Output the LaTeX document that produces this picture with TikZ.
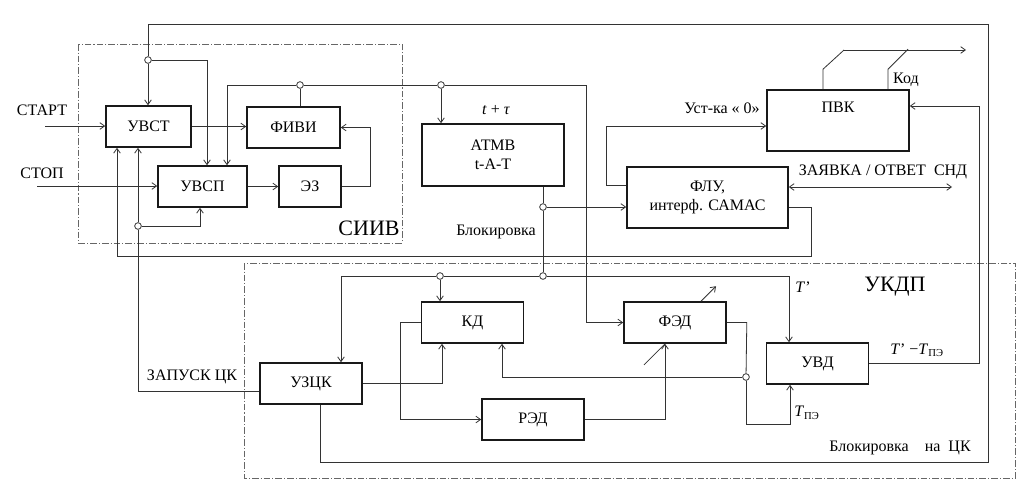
\documentclass[tikz,border=0pt]{standalone}
\usepackage{fontspec}
\setmainfont{Liberation Serif}
\usetikzlibrary{positioning,arrows.meta}

\begin{document}
\begin{tikzpicture}[x=0.75pt, y=-0.75pt,
  every node/.style={font=\fontsize{12}{14}\selectfont, inner sep=1pt},
  blk/.style={draw=black!90, line width=1.2pt, inner sep=2pt, minimum width=76.5pt, minimum height=30.75pt, align=center},
  jn/.style={circle, draw=black!80, fill=white, line width=0.6pt, inner sep=0pt, minimum size=5pt},
  ln/.style={draw=black!80, line width=0.6pt},
  arr/.style={ln, -{Straight Barb[length=3.5pt,width=5pt]}},
  dframe/.style={draw=black!60, line width=0.6pt, dash pattern=on 5pt off 1.5pt on 0.8pt off 1.5pt},
  big/.style={font=\fontsize{16.5}{18}\selectfont}]
\useasboundingbox (0,0) rectangle (1031,490);

% dashed frames
\draw[dframe] (78,44) rectangle (402,243);
\draw[dframe] (244,263) rectangle (1015,478);

% blocks of SIIV
\node[blk, minimum width=63.75pt] (uvst) at (148.5,126.5) {УВСТ};
\node[blk, minimum width=69.75pt] (fivi) at (293.5,127.5) {ФИВИ};
\node[blk, minimum width=66.75pt] (uvsp) at (202.5,186.5) {УВСП};
\node[blk, minimum width=46.5pt] (ez) at (310,186.5) {ЭЗ};

% ATMV, PVK, FLU
\node[blk, minimum width=106.5pt, minimum height=46.5pt] (atmv) at (493,155) {АТМВ\\t-A-T};
\node[blk, minimum width=106.5pt, minimum height=45.75pt, label={[anchor=center, yshift=-13.5pt]north:ПВК}] (pvk) at (838,120.5) {};
\node[blk, minimum width=120.75pt, minimum height=45.75pt] (flu) at (707.5,197.5) {ФЛУ,\\интерф. САМАС};

% blocks of UKDP
\node[blk] (kd) at (472.5,322.5) {КД};
\node[blk] (fed) at (675,322.5) {ФЭД};
\node[blk] (uzck) at (311,383.5) {УЗЦК};
\node[blk] (red) at (533,419.5) {РЭД};
\node[blk] (uvd) at (817.5,363.5) {УВД};

% junctions
\node[jn] (j1) at (148,60) {};
\node[jn] (j2) at (300,85) {};
\node[jn] (j3) at (441,85) {};
\node[jn] (j4) at (543,207) {};
\node[jn] (j5) at (543,276) {};
\node[jn] (j6) at (440,276) {};
\node[jn] (j7) at (138,226) {};
\node[jn] (j8) at (746,377) {};

% corner points
\coordinate (start) at (45,126);
\coordinate (stop) at (37,186);
\coordinate (tl) at (148,24);
\coordinate (tr) at (988,24);
\coordinate (br) at (988,462);
\coordinate (b1) at (227,85);
\coordinate (b2) at (586,85);
\coordinate (bl) at (117,256);
\coordinate (blr) at (811,256);
\coordinate (bus) at (341,276);
\coordinate (busr) at (789,276);
\coordinate (snd) at (952,187);
\coordinate (kod1) at (844,50);
\coordinate (kod2) at (966,50);

% SIIV connections
\draw[arr] (start) -- (start -| uvst.west);
\draw[arr] (stop) -- (stop -| uvsp.west);
\draw[arr] (uvst.east) -- (uvst.east -| fivi.west);
\draw[arr] (uvsp) -- (ez);
\draw[arr] (ez.east) -- ++(29,0) |- (fivi.east);
\draw[ln] (fivi.north -| j2) -- (j2);
\draw[ln] (j2) -- (b1);
\draw[arr] (b1) -- (b1 |- uvsp.north);
\draw[ln] (j2) -- (j3);
\draw[ln] (j3) -- (b2);
\draw[arr] (j3) -- (j3 |- atmv.north);
\draw[arr] (b2) |- (fed.west);

% outer loops
\draw[ln] (uzck.south -| 320,0) |- (br) -- (tr) -- (tl) -- (j1);
\draw[arr] (j1) -- (j1 |- uvst.north);
\draw[arr] (j1) -| (uvsp.north -| 207,0);
\draw[arr] (flu.east |- 0,207) -| (blr) -- (bl) -- (bl |- uvst.south);
\draw[ln] (uzck.west |- 0,391) -| (j7);
\draw[arr] (j7) -- (j7 |- uvst.south);
\draw[arr] (j7) -| (uvsp.south -| 200,0);

% blocking from ATMV
\draw[ln] (atmv.south -| j4) -- (j4);
\draw[arr] (j4) -- (j4 -| flu.west);
\draw[ln] (j4) -- (j5);

% bus inside UKDP
\draw[ln] (j6) -- (bus);
\draw[arr] (bus) -- (bus |- uzck.north);
\draw[arr] (j6) -- (j6 |- kd.north);
\draw[ln] (j6) -- (j5);
\draw[ln] (j5) -- (busr);
\draw[arr] (busr) -- (busr |- uvd.north);

% UKDP connections
\draw[arr] (uzck.east) -| (kd.south -| 442,0);
\draw[arr] (kd.west) -- ++(-20,0) |- (red.west);
\draw[arr] (red.east) -| (fed.south -| 665,0);
\draw[ln] (fed.south -| 665,0) -- ++(-21,21);
\draw[arr] (fed.north -| 701,0) -- ++(15,-15);
\draw[ln] (fed.east) -- ++(20,0) -- (j8);
\draw[arr] (j8) -- (j8 |- 0,424) -| (uvd.south -| 790,0);
\draw[arr] (j8) -| (kd.south -| 502,0);
\draw[arr] (uvd.east) -- ++(110,0) |- (pvk.east |- 0,106);

% FLU and PVK
\draw[arr] (flu.west |- 0,185) -- ++(-20,0) |- (pvk.west |- 0,126);
\draw[ln, {Straight Barb[length=3.5pt,width=5pt]}-{Straight Barb[length=3.5pt,width=5pt]}] (flu.east |- 0,187) -- (snd);
\draw[ln] (pvk.north -| 823,0) -- ++(0,-20) -- (kod1);
\draw[ln] (pvk.north -| 888,0) -- ++(0,-20) -- ++(20,-20);
\draw[arr] (kod1) -- (kod2);

% texts
\node (tstart) at (42,110) {СТАРТ};
\node (tstop) at (42,173) {СТОП};
\node[big] (tsiiv) at (369,228) {СИИВ};
\node (ttau) at (496,110) {\textit{t} + \textit{τ}};
\node (tblk) at (496,232) {Блокировка};
\node (tust) at (722,108) {Уст-ка « 0»};
\node (tsnd) at (883,172) {ЗАЯВКА / ОТВЕТ\ \ СНД};
\node (tkod) at (906,80) {Код};
\node[big] (tukdp) at (895,287) {УКДП};
\node (tt1) at (803,287) {\textit{T}'};
\node (tt2) at (917,350) {\textit{T}' −\textit{T}\textsubscript{ПЭ}};
\node (tt3) at (807,413) {\textit{T}\textsubscript{ПЭ}};
\node (tzap) at (192,377) {ЗАПУСК ЦК};
\node (tblkck) at (900,448) {Блокировка\quad на\ \ ЦК};
\end{tikzpicture}
\end{document}
